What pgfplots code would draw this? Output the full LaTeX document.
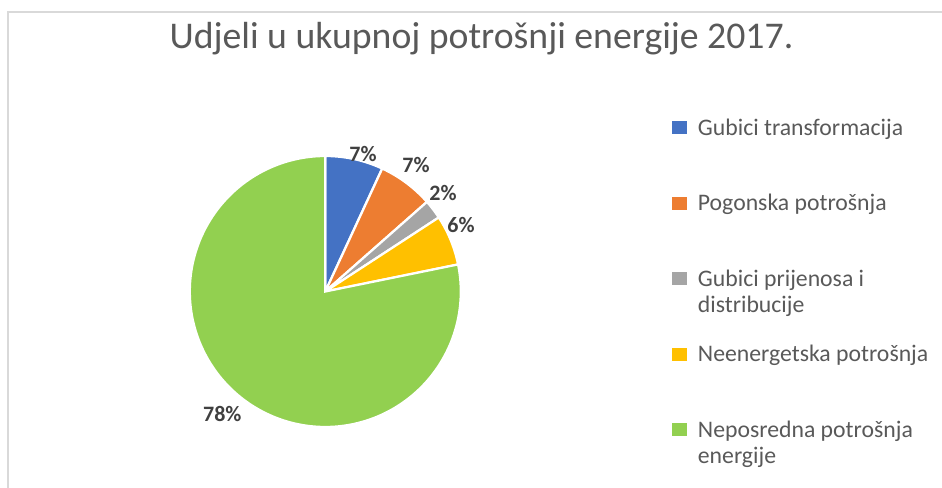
\documentclass[border=0pt]{standalone}
\usepackage{pgfplots}
\pgfplotsset{compat=1.18}
\usepackage{fontspec}
\setmainfont{Carlito}
\definecolor{cBlue}{HTML}{4472C4}
\definecolor{cOrange}{HTML}{ED7D31}
\definecolor{cGray}{HTML}{A5A5A5}
\definecolor{cYellow}{HTML}{FFC000}
\definecolor{cGreen}{HTML}{92D050}
\definecolor{cTitle}{HTML}{595959}
\definecolor{cLab}{HTML}{404040}
\definecolor{cFrame}{HTML}{D9D9D9}
% shares (percent)
\def\vA{6.9}  % Gubici transformacija
\def\vB{6.6}  % Pogonska potrosnja
\def\vC{2.3}  % Gubici prijenosa i distribucije
\def\vD{6.0}  % Neenergetska potrosnja
\def\vE{78.2} % Neposredna potrosnja energije
\pgfmathsetmacro\aA{90}
\pgfmathsetmacro\aB{\aA-3.6*\vA}
\pgfmathsetmacro\aC{\aB-3.6*\vB}
\pgfmathsetmacro\aD{\aC-3.6*\vC}
\pgfmathsetmacro\aE{\aD-3.6*\vD}
\pgfmathsetmacro\aF{\aE-3.6*\vE}
\def\cx{325.3}
\def\cy{196.5}
\def\rr{135.5}
\newcommand\lent[1]{\raisebox{0pt}[\height][0pt]{\begin{tabular}[t]{@{}l@{}}#1\end{tabular}}}
\begin{document}
\begin{tikzpicture}
\begin{axis}[
  at={(0,0)}, anchor=south west,
  width=706.5pt, height=366pt, scale only axis,
  xmin=0, xmax=942, ymin=0, ymax=488,
  hide axis, clip=false,
  legend style={draw=none, fill=none, inner sep=0pt, outer sep=0pt,
    at={(0.7123,0.7592)}, anchor=north west,
    font=\fontsize{17.8}{19.2}\selectfont, text=cTitle,
    nodes={inner sep=0pt, anchor=base west}, row sep=41.7pt},
  legend cell align=left,
  legend image code/.code={
    \fill[#1,draw=none] (0pt,-0.5pt) rectangle (11.25pt,10.75pt);
    \path (0pt,0pt) -- (18.5pt,0pt);
  },
]
\addplot[fill=cBlue, draw=white, line width=1.7pt, domain=\aB:\aA, samples=40, variable=\t]
  ({\cx+\rr*cos(\t)}, {\cy+\rr*sin(\t)}) -- (axis cs:\cx,\cy) -- cycle;
\addlegendentry{\lent{Gubici transformacija}}
\addplot[fill=cOrange, draw=white, line width=1.7pt, domain=\aC:\aB, samples=40, variable=\t]
  ({\cx+\rr*cos(\t)}, {\cy+\rr*sin(\t)}) -- (axis cs:\cx,\cy) -- cycle;
\addlegendentry{\lent{Pogonska potrošnja}}
\addplot[fill=cGray, draw=white, line width=1.7pt, domain=\aD:\aC, samples=20, variable=\t]
  ({\cx+\rr*cos(\t)}, {\cy+\rr*sin(\t)}) -- (axis cs:\cx,\cy) -- cycle;
\addlegendentry{\lent{Gubici prijenosa i\\distribucije}}
\addplot[fill=cYellow, draw=white, line width=1.7pt, domain=\aE:\aD, samples=40, variable=\t]
  ({\cx+\rr*cos(\t)}, {\cy+\rr*sin(\t)}) -- (axis cs:\cx,\cy) -- cycle;
\addlegendentry{\lent{Neenergetska potrošnja}}
\addplot[fill=cGreen, draw=white, line width=1.7pt, domain=\aF:\aE, samples=200, variable=\t]
  ({\cx+\rr*cos(\t)}, {\cy+\rr*sin(\t)}) -- (axis cs:\cx,\cy) -- cycle;
\addlegendentry{\lent{Neposredna potrošnja\\energije}}
% data labels
\begin{scope}[every node/.style={font=\bfseries\fontsize{16.5}{18}\selectfont, text=cLab, anchor=base, inner sep=0pt}]
\node at (axis cs:363,326) {7\%};
\node at (axis cs:416,315.7) {7\%};
\node at (axis cs:443,287.3) {2\%};
\node at (axis cs:461,255) {6\%};
\node at (axis cs:222.3,66.3) {78\%};
\end{scope}
% title
\node[anchor=base, inner sep=0pt, text=cTitle, font=\fontsize{28.3}{32}\selectfont] at (axis cs:481.5,439.5) {Udjeli u ukupnoj potrošnji energije 2017.};
% chart frame
\draw[cFrame, line width=1.5pt] (axis cs:7.5,-5) -- (axis cs:7.5,476) -- (axis cs:960,476);
\end{axis}
\pgfresetboundingbox
\path[use as bounding box] (0,0) rectangle (706.5pt,366pt);
\end{tikzpicture}
\end{document}
